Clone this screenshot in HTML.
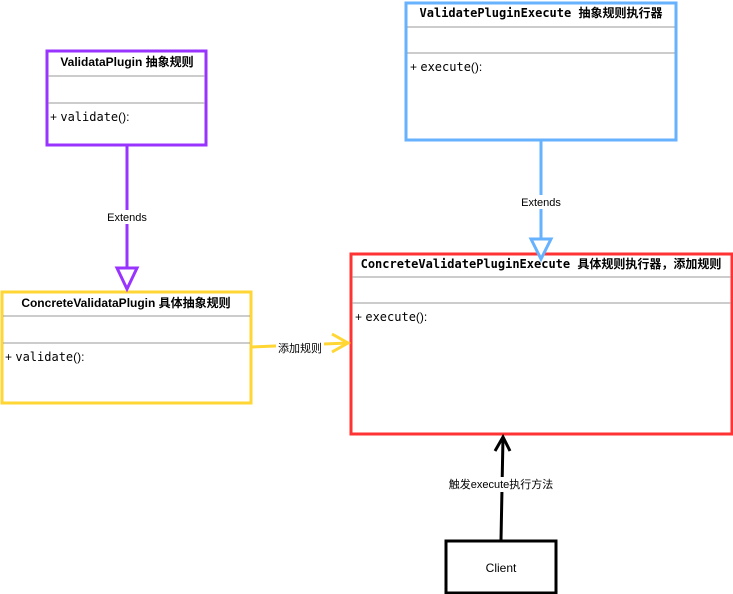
<!DOCTYPE html>
<html><head><meta charset="utf-8"><style>
html,body{margin:0;padding:0;background:#fff;}
svg{display:block;}
.t{font-family:"Liberation Sans","Noto Sans CJK SC",sans-serif;font-size:12px;fill:#000;}
.b{font-weight:bold;}
.m{font-family:"DejaVu Sans Mono","Liberation Mono","Noto Sans CJK SC",monospace;}
.s{font-size:11px;}
</style></head><body>
<svg width="733" height="594" viewBox="0 0 733 594" xmlns="http://www.w3.org/2000/svg">
<!-- Purple -->
<rect x="47" y="51" width="159" height="94" fill="#fff" stroke="#9933ff" stroke-width="3"/>
<line x1="48" y1="76" x2="205" y2="76" stroke="#999" stroke-width="1"/>
<line x1="48" y1="103" x2="205" y2="103" stroke="#999" stroke-width="1"/>
<text x="127" y="66" text-anchor="middle" class="t b">ValidataPlugin 抽象规则</text>
<text x="50" y="121" class="t">+ <tspan class="m">validate</tspan>():</text>

<!-- Blue -->
<rect x="406" y="3" width="270" height="137" fill="#fff" stroke="#66b2ff" stroke-width="3"/>
<line x1="407" y1="27" x2="675" y2="27" stroke="#999"/>
<line x1="407" y1="53" x2="675" y2="53" stroke="#999"/>
<text x="541" y="17" text-anchor="middle" class="t b m">ValidatePluginExecute <tspan font-family="Liberation Sans,Noto Sans CJK SC,sans-serif">抽象规则执行器</tspan></text>
<text x="410" y="71" class="t">+ <tspan class="m">execute</tspan>():</text>

<!-- Red -->
<rect x="351" y="254" width="381" height="180" fill="#fff" stroke="#ff3333" stroke-width="3"/>
<line x1="352" y1="277" x2="731" y2="277" stroke="#999"/>
<line x1="352" y1="303" x2="731" y2="303" stroke="#999"/>
<text x="541" y="268" text-anchor="middle" class="t b m">ConcreteValidatePluginExecute <tspan font-family="Liberation Sans,Noto Sans CJK SC,sans-serif">具体规则执行器，添加规则</tspan></text>
<text x="355" y="321" class="t">+ <tspan class="m">execute</tspan>():</text>

<!-- Yellow -->
<rect x="2" y="292" width="249" height="111" fill="#fff" stroke="#ffd633" stroke-width="3"/>
<line x1="3" y1="316" x2="250" y2="316" stroke="#999"/>
<line x1="3" y1="343" x2="250" y2="343" stroke="#999"/>
<text x="126" y="307" text-anchor="middle" class="t b">ConcreteValidataPlugin 具体抽象规则</text>
<text x="5" y="361" class="t">+ <tspan class="m">validate</tspan>():</text>

<!-- Client -->
<rect x="446" y="541" width="110" height="52" fill="#fff" stroke="#000" stroke-width="3"/>
<text x="501" y="572" text-anchor="middle" class="t">Client</text>

<!-- Purple extends -->
<line x1="127" y1="145" x2="127" y2="268" stroke="#9933ff" stroke-width="3"/>
<polygon points="117,268 137,268 127,289" fill="#fff" stroke="#9933ff" stroke-width="3"/>
<rect x="104" y="210" width="46" height="14" fill="#fff"/>
<text x="127" y="221" text-anchor="middle" class="t s">Extends</text>

<!-- Blue extends -->
<line x1="541" y1="140" x2="541" y2="239" stroke="#66b2ff" stroke-width="3"/>
<polygon points="531,239 551,239 541,259" fill="#fff" stroke="#66b2ff" stroke-width="3"/>
<rect x="518" y="195" width="46" height="14" fill="#fff"/>
<text x="541" y="206" text-anchor="middle" class="t s">Extends</text>

<!-- Yellow arrow -->
<line x1="251" y1="347" x2="348" y2="343" stroke="#ffd633" stroke-width="3"/>
<polyline points="332,334 348,343 332,352" fill="none" stroke="#ffd633" stroke-width="3"/>
<rect x="276" y="341" width="48" height="14" fill="#fff"/>
<text x="300" y="352" text-anchor="middle" class="t s">添加规则</text>

<!-- Black arrow -->
<line x1="501" y1="540" x2="503" y2="437" stroke="#000" stroke-width="3"/>
<polyline points="495,451 503,437 510,451" fill="none" stroke="#000" stroke-width="3"/>
<rect x="448" y="477" width="106" height="15" fill="#fff"/>
<text x="501" y="488" text-anchor="middle" class="t s">触发execute执行方法</text>
</svg>
</body></html>
